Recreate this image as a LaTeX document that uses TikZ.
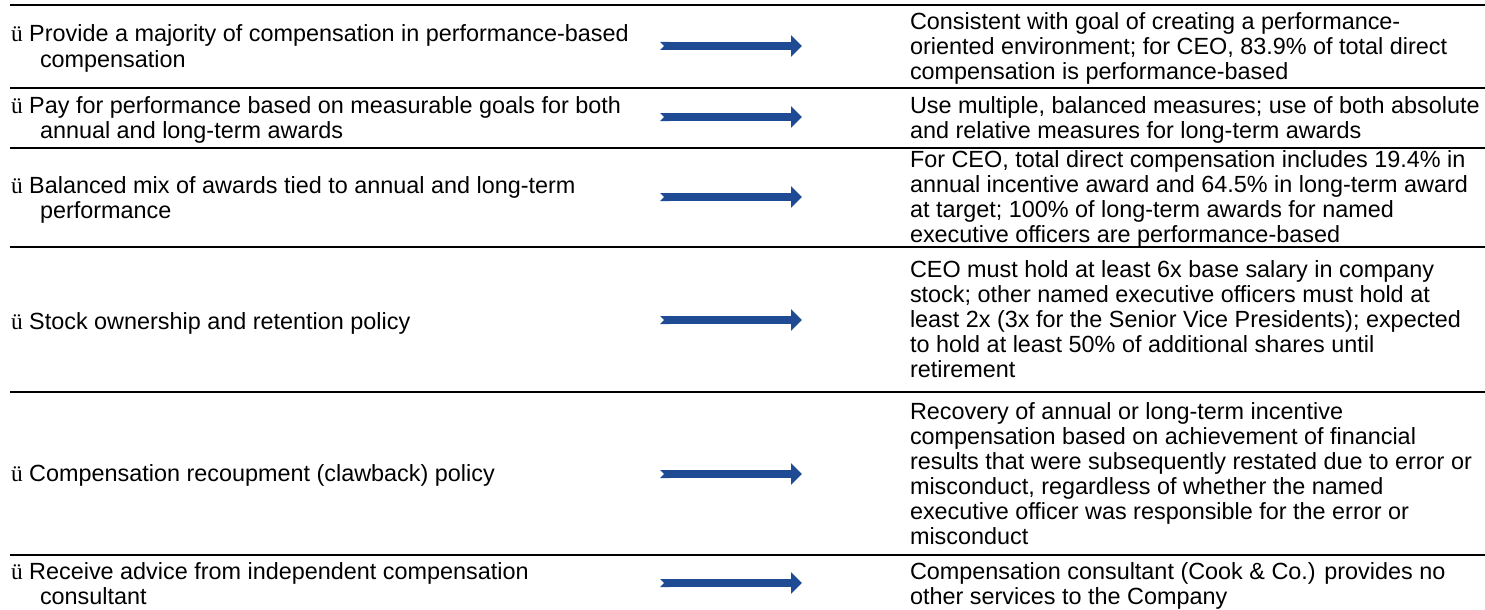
\documentclass[tikz,border=0pt]{standalone}
\usepackage{fontspec}
\setmainfont{Liberation Sans}
\newfontfamily\chkfont{Liberation Serif}
\usetikzlibrary{arrows.meta}
\definecolor{arrblue}{HTML}{1F4A94}
\newcommand\mystrut{\rule{0pt}{20pt}}
\newcommand\ck{{\chkfont ü}\ }
\newcommand\hang{\hspace*{29pt}}
\tikzset{
  cell/.style={anchor=north west, inner sep=0pt, outer sep=0pt, align=left,
               font=\fontsize{23.4}{25}\selectfont, text=black},
  rowline/.style={line width=2.6pt, black},
  bluearrow/.style={arrblue, line width=8pt,
               {Triangle Cap[reversed]}-{Triangle[length=11pt,width=21pt]}}
}
\begin{document}
\begin{tikzpicture}[x=1pt,y=-1pt]
\useasboundingbox (0,0) rectangle (1485,610);
% row rules
\foreach \yy [count=\i] in {5,88,148,247,392,555}{
  \coordinate (ls\i) at (10,\yy);
  \coordinate (le\i) at (1485,\yy);
  \draw[rowline] (ls\i) -- (le\i);
}
% left cells
\node[cell] (l1) at (11,22) {\mystrut\ck Provide a majority of compensation in performance-based\\\hang compensation};
\node[cell] (l2) at (11,93.5) {\mystrut\ck Pay for performance based on measurable goals for both\\\hang annual and long-term awards};
\node[cell] (l3) at (11,173) {\mystrut\ck Balanced mix of awards tied to annual and long-term\\\hang performance};
\node[cell] (l4) at (11,309) {\mystrut\ck Stock ownership and retention policy};
\node[cell] (l5) at (11,461.5) {\mystrut\ck Compensation recoupment (clawback) policy};
\node[cell] (l6) at (11,559) {\mystrut\ck Receive advice from independent compensation\\\hang consultant};
% right cells
\node[cell] (r1) at (910,9.5) {\mystrut Consistent with goal of creating a performance-\\oriented environment; for CEO, 83.9\% of total direct\\compensation is performance-based};
\node[cell] (r2) at (910,93.5) {\mystrut Use multiple, balanced measures; use of both absolute\\and relative measures for long-term awards};
\node[cell] (r3) at (910,147) {\mystrut For CEO, total direct compensation includes 19.4\% in\\annual incentive award and 64.5\% in long-term award\\at target; 100\% of long-term awards for named\\executive officers are performance-based};
\node[cell] (r4) at (910,257.5) {\mystrut CEO must hold at least 6x base salary in company\\stock; other named executive officers must hold at\\least 2x (3x for the Senior Vice Presidents); expected\\to hold at least 50\% of additional shares until\\retirement};
\node[cell] (r5) at (910,399) {\mystrut Recovery of annual or long-term incentive\\compensation based on achievement of financial\\results that were subsequently restated due to error or\\misconduct, regardless of whether the named\\executive officer was responsible for the error or\\misconduct};
\node[cell] (r6) at (910,559) {\mystrut Compensation consultant (Cook \& Co.) provides no\\other services to the Company};
% arrows
\foreach \yy [count=\i] in {46,117,197,320,474,583}{
  \coordinate (as\i) at (660,\yy);
  \coordinate (ae\i) at (802,\yy);
  \draw[bluearrow] (as\i) -- (ae\i);
}
\end{tikzpicture}
\end{document}
